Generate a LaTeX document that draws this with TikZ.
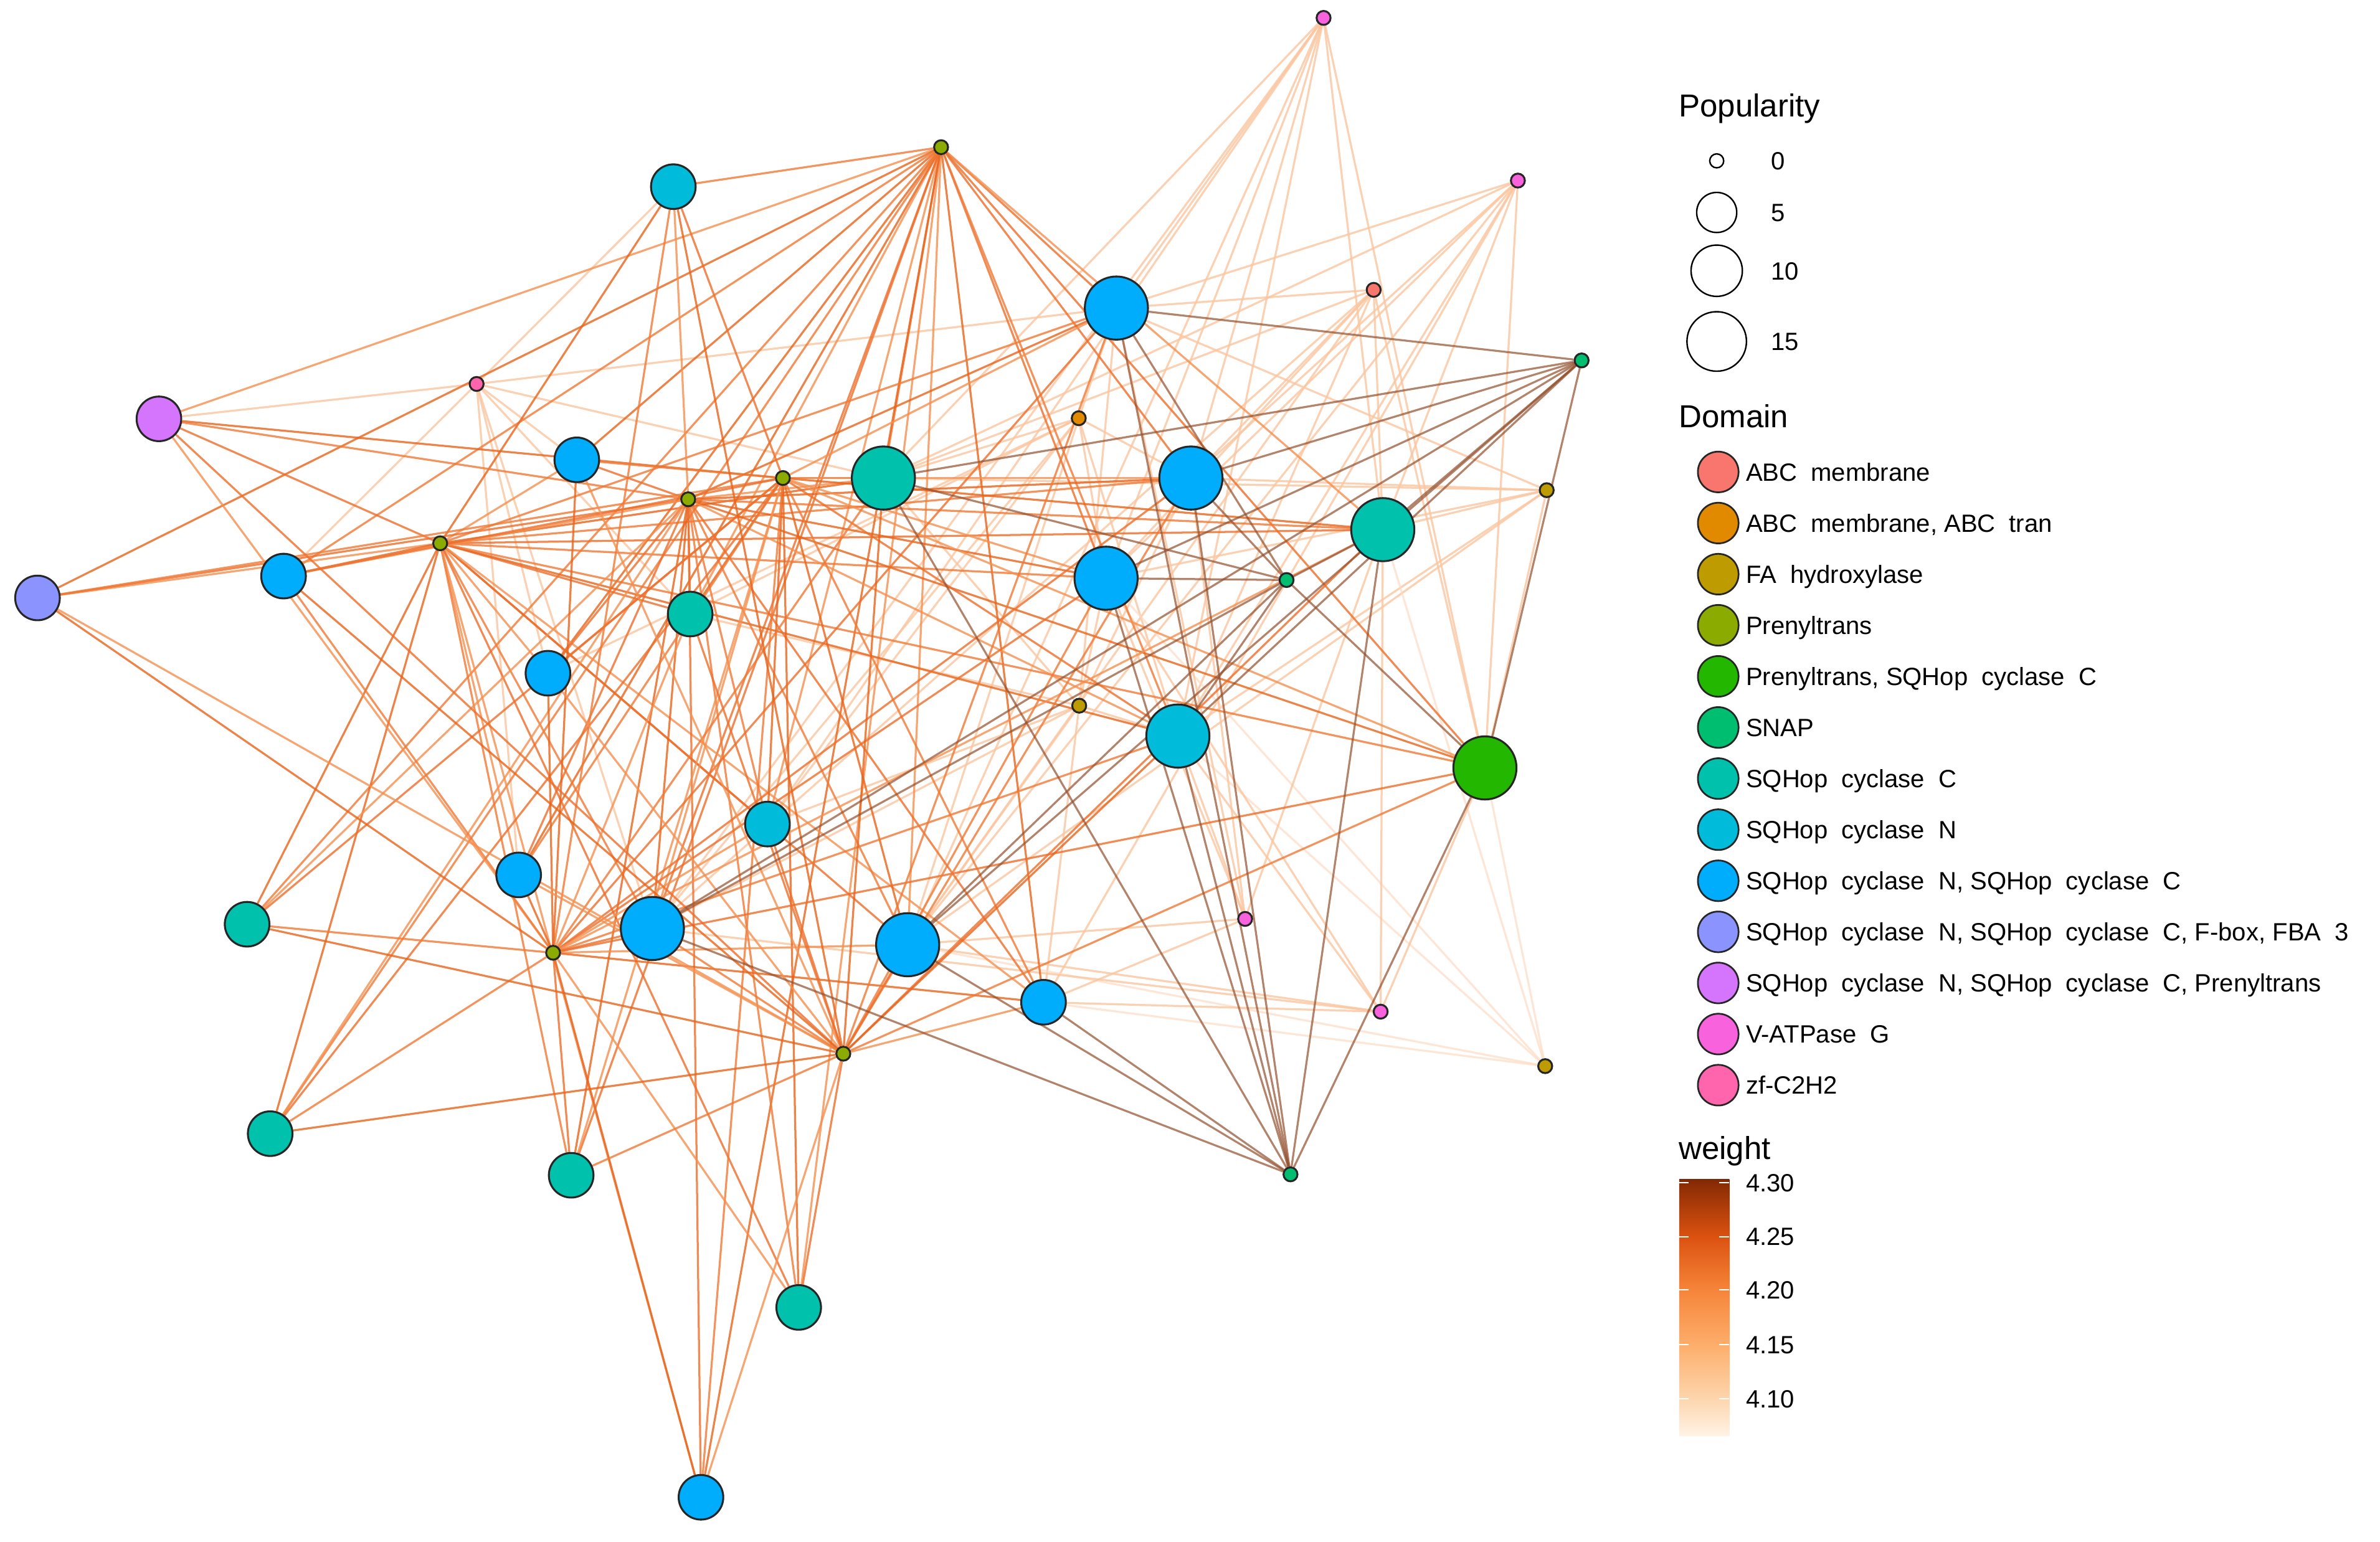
\documentclass[tikz,border=0pt]{standalone}
\usepackage{fontspec}
\setmainfont{Liberation Sans}

% domain colours
\definecolor{dabc}{HTML}{F8766D}
\definecolor{dabct}{HTML}{E18A00}
\definecolor{dfah}{HTML}{BE9C00}
\definecolor{dpre}{HTML}{8CAB00}
\definecolor{dpresq}{HTML}{24B700}
\definecolor{dsnap}{HTML}{00BE70}
\definecolor{dsqc}{HTML}{00C1AB}
\definecolor{dsqn}{HTML}{00BBDA}
\definecolor{dsqnc}{HTML}{00ACFC}
\definecolor{dfbox}{HTML}{8B93FF}
\definecolor{dsqpre}{HTML}{D575FE}
\definecolor{dvat}{HTML}{F962DD}
\definecolor{dzf}{HTML}{FF65AC}
% weight colours
\definecolor{wmid}{HTML}{F07A36}
\definecolor{wdeep}{HTML}{E8641C}
\definecolor{wsoft}{HTML}{F49050}
\definecolor{wwarm}{HTML}{EE6F2C}
\definecolor{wbrown}{HTML}{93502F}
\definecolor{wpale}{HTML}{FBC6A0}
\definecolor{wfaint}{HTML}{FDDCC4}
\definecolor{wbar0}{HTML}{FFF3E6}
\definecolor{wbar1}{HTML}{FDD6AE}
\definecolor{wbar2}{HTML}{FDAE6B}
\definecolor{wbar3}{HTML}{F6853A}
\definecolor{wbar4}{HTML}{DC5210}
\definecolor{wbar5}{HTML}{8A2C05}
\definecolor{wbar6}{HTML}{7F2704}

\pgfdeclareverticalshading{weightscale}{100bp}{color(0bp)=(wbar0); color(25bp)=(wbar0); color(32.15bp)=(wbar1); color(42.75bp)=(wbar2); color(53.35bp)=(wbar3); color(63.75bp)=(wbar4); color(74.2bp)=(wbar5); color(75bp)=(wbar6); color(100bp)=(wbar6)}

\pgfdeclarelayer{back}
\pgfdeclarelayer{edges}
\pgfsetlayers{back,edges,main}

\newcommand{\us}{\hspace{0.55em}}

\tikzset{
  gnode/.style={circle, draw=black!85, line width=0.9pt, inner sep=0pt},
  hubdot/.style={gnode, minimum size=2.3mm},
  midnode/.style={gnode, minimum size=7.35mm},
  bignode/.style={gnode, minimum size=10.4mm},
  hubedge/.style={line width=0.95pt, draw opacity=0.8},
  snapedge/.style={line width=0.95pt, draw=wbrown, draw opacity=0.7},
  paleedge/.style={line width=0.95pt, draw=wpale, draw opacity=0.8},
  faintedge/.style={line width=0.95pt, draw=wfaint, draw opacity=0.7},
  keytext/.style={inner sep=0pt, font=\fontsize{11.7pt}{14pt}\selectfont},
  titletext/.style={inner sep=0pt, font=\fontsize{14.9pt}{18pt}\selectfont},
  popkey/.style={circle, draw=black, line width=0.7pt, inner sep=0pt, fill=white},
  domkey/.style={circle, draw=black!85, line width=0.8pt, inner sep=0pt, minimum size=6.7mm}
}

\def\bignodes{sn1,nc1,ncp,nc2,sc1,nc3,sc2,fbox,nc4,nc5,sc3,nc6,sn2,pc,sn3,nc7,sc4,nc8,nc9,nc10,sc5,sc6,sc7,nc11}

\begin{document}
\begin{tikzpicture}[x=0.25mm, y=-0.25mm]
	%%%%% START %%%%%
	\useasboundingbox (0,0) rectangle (1568,1016);
	\begin{pgfonlayer}{back}
		\fill[white] (0,0) rectangle (1568,1016);
	\end{pgfonlayer}
	
	% hubs (popularity 0)
	\node[hubdot, fill=dpre] (prA) at (620,97) {};
	\node[hubdot, fill=dpre] (prB) at (290,358) {};
	\node[hubdot, fill=dpre] (prC) at (453.4,329) {};
	\node[hubdot, fill=dpre] (prD) at (515.8,315) {};
	\node[hubdot, fill=dpre] (prE) at (364.4,627.8) {};
	\node[hubdot, fill=dpre] (prF) at (555.6,694.3) {};
	\node[hubdot, fill=dsnap] (snA) at (1042,237.5) {};
	\node[hubdot, fill=dsnap] (snB) at (847.6,382.2) {};
	\node[hubdot, fill=dsnap] (snC) at (850.2,773.8) {};
	\node[hubdot, fill=dvat] (vaA) at (872,11.8) {};
	\node[hubdot, fill=dvat] (vaB) at (1000,119) {};
	\node[hubdot, fill=dvat] (vaC) at (820.3,605.5) {};
	\node[hubdot, fill=dvat] (vaD) at (909.6,666.6) {};
	\node[hubdot, fill=dfah] (faA) at (1019,323) {};
	\node[hubdot, fill=dfah] (faB) at (711,465) {};
	\node[hubdot, fill=dfah] (faC) at (1018,702.5) {};
	\node[hubdot, fill=dabc] (abc) at (905,191) {};
	\node[hubdot, fill=dabct] (abt) at (710.7,275.6) {};
	\node[hubdot, fill=dzf] (zf) at (314,253) {};
	
	% cyclase nodes
	\node[midnode, fill=dsqn] (sn1) at (443.6,123) {};
	\node[bignode, fill=dsqnc] (nc1) at (735.5,203) {};
	\node[midnode, fill=dsqpre] (ncp) at (104.7,276) {};
	\node[midnode, fill=dsqnc] (nc2) at (380,303) {};
	\node[bignode, fill=dsqc] (sc1) at (582,315) {};
	\node[bignode, fill=dsqnc] (nc3) at (784.6,315) {};
	\node[bignode, fill=dsqc] (sc2) at (911,349) {};
	\node[midnode, fill=dfbox] (fbox) at (24.7,394) {};
	\node[midnode, fill=dsqnc] (nc4) at (186.8,379.6) {};
	\node[bignode, fill=dsqnc] (nc5) at (728.7,381) {};
	\node[midnode, fill=dsqc] (sc3) at (454.7,404.6) {};
	\node[midnode, fill=dsqnc] (nc6) at (361,443.6) {};
	\node[bignode, fill=dsqn] (sn2) at (776,485) {};
	\node[bignode, fill=dpresq] (pc) at (978.3,506) {};
	\node[midnode, fill=dsqn] (sn3) at (505.6,543) {};
	\node[midnode, fill=dsqnc] (nc7) at (341.7,576.5) {};
	\node[midnode, fill=dsqc] (sc4) at (162.8,609) {};
	\node[bignode, fill=dsqnc] (nc8) at (429.8,611.8) {};
	\node[bignode, fill=dsqnc] (nc9) at (598,622.5) {};
	\node[midnode, fill=dsqnc] (nc10) at (687.5,660.4) {};
	\node[midnode, fill=dsqc] (sc5) at (178,747) {};
	\node[midnode, fill=dsqc] (sc6) at (376.3,774.4) {};
	\node[midnode, fill=dsqc] (sc7) at (526.2,861.5) {};
	\node[midnode, fill=dsqnc] (nc11) at (461.8,986.6) {};
	
	\begin{pgfonlayer}{edges}
		% light edges
		\foreach \n in {nc1,sc1,nc3,sc2,nc5,sn2,pc,nc9,sn3,nc8} \draw[paleedge] (vaA) -- (\n);
		\foreach \n in {nc1,nc3,sc2,nc5,sn2,pc,sc1,nc9,nc10} \draw[paleedge] (vaB) -- (\n);
		\foreach \n in {nc1,sc1,nc3,sc2,nc5,sn2,pc,nc8,nc9} \draw[paleedge] (abc) -- (\n);
		\foreach \n in {sc1,nc3,nc5,sc3,sn2,sn3,nc8,nc9,nc6,nc1} \draw[paleedge] (abt) -- (\n);
		\foreach \n in {nc1,sc1,nc3,sc2,nc5,sn2,pc,nc9} \draw[paleedge] (faA) -- (\n);
		\foreach \n in {nc1,sc1,nc3,nc5,sn2,sn3,nc8,nc9,nc10,sc3} \draw[paleedge] (faB) -- (\n);
		\foreach \n in {sc2,sn2,pc,nc9,nc10,nc5} \draw[faintedge] (faC) -- (\n);
		\foreach \n in {sn2,nc9,nc5,sc2,nc3,nc1,nc10} \draw[paleedge] (vaC) -- (\n);
		\foreach \n in {sc2,sn2,nc5,nc9,nc10,nc8,pc} \draw[paleedge] (vaD) -- (\n);
		\foreach \n in {sn1,ncp,nc2,sc1,nc4,sc3,nc6,nc7,nc8,nc1} \draw[paleedge] (zf) -- (\n);
		% prenyltrans hubs to every cyclase node
		\foreach \h [count=\i] in {prA,prB,prC,prD,prE,prF}{
			\foreach \n [count=\j] in \bignodes{
				\pgfmathtruncatemacro\k{mod(\i*5+\j*3,4)}
				\ifcase\k \def\ecol{wmid}\or \def\ecol{wdeep}\or \def\ecol{wsoft}\or \def\ecol{wwarm}\fi
				\draw[hubedge, draw=\ecol] (\h) -- (\n);
			}
		}
		% heavy SNAP edges
		\foreach \s in {snA,snB,snC}{
			\foreach \n in {nc1,sc1,nc3,sc2,nc5,sn2,pc,nc8,nc9} \draw[snapedge] (\s) -- (\n);
		}
		\draw[snapedge] (snC) -- (nc10);
	\end{pgfonlayer}
	
	% legend: popularity
	\node[titletext, anchor=base west] (poptitle) at (1105.8,77) {Popularity};
	\foreach \v/\d/\y [count=\i] in {0/2.3/106, 5/6.6/140, 10/8.45/178.4, 15/9.8/225}{
		\node[popkey, minimum size=\d mm] (pkey\i) at (1131,\y) {};
		\node[keytext, anchor=base west] (plab\i) at (1166.5,\y+5.9) {\v};
	}
	
	% legend: domain
	\node[titletext, anchor=base west] (domtitle) at (1105.8,281.8) {Domain};
	\foreach \lab/\col [count=\i] in {{ABC\us membrane}/dabc, {ABC\us membrane, ABC\us tran}/dabct, {FA\us hydroxylase}/dfah, {Prenyltrans}/dpre, {Prenyltrans, SQHop\us cyclase\us C}/dpresq, {SNAP}/dsnap, {SQHop\us cyclase\us C}/dsqc, {SQHop\us cyclase\us N}/dsqn, {SQHop\us cyclase\us N, SQHop\us cyclase\us C}/dsqnc, {SQHop\us cyclase\us N, SQHop\us cyclase\us C, F-box, FBA\us 3}/dfbox, {SQHop\us cyclase\us N, SQHop\us cyclase\us C, Prenyltrans}/dsqpre, {V-ATPase\us G}/dvat, {zf-C2H2}/dzf}{
		\pgfmathsetmacro\yy{311+(\i-1)*33.67}
		\node[domkey, fill=\col] (dkey\i) at (1132,\yy) {};
		\node[keytext, anchor=base west] (dlab\i) at (1150,\yy+5.9) {\lab};
	}
	
	% legend: weight
	\node[titletext, anchor=base west] (wtitle) at (1105.8,763.9) {weight};
	\node[shading=weightscale, minimum width=8.25mm, minimum height=42.3mm, inner sep=0pt, anchor=north west] (wbar) at (1106,776.7) {};
	\foreach \v/\y [count=\i] in {4.30/779.3, 4.25/814.8, 4.20/850, 4.15/885.9, 4.10/921.8}{
		\draw[white, line width=0.6pt] (1106,\y) -- (1112.5,\y) (1132.5,\y) -- (1139,\y);
		\node[keytext, anchor=base west] (wlab\i) at (1150,\y+5.9) {\v};
	}
	%%%%% END %%%%%
\end{tikzpicture}
\end{document}
